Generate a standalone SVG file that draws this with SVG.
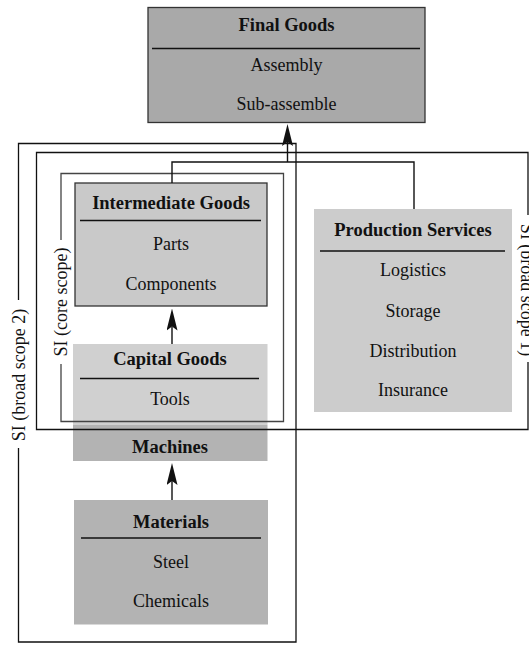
<svg xmlns="http://www.w3.org/2000/svg" width="529" height="645" viewBox="0 0 529 645">
<defs>
<style>
.t{font-family:"Liberation Serif","Times New Roman",serif;font-size:18px;fill:#111;text-anchor:middle;dominant-baseline:central}
.b{font-weight:bold;font-size:18.5px}
.r{font-family:"Liberation Serif","Times New Roman",serif;font-size:18px;fill:#111;text-anchor:middle}
.div{stroke:#111;stroke-width:1.3}
.scope{fill:none;stroke:#111;stroke-width:1.3}
.conn{fill:none;stroke:#111;stroke-width:1.4}
.box{stroke:#333;stroke-width:1.3}
</style>
<marker id="ah" viewBox="0 0 22 11" refX="4" refY="5.5" markerWidth="22" markerHeight="11" markerUnits="userSpaceOnUse" orient="auto">
<path d="M0,0 L22,5.5 L0,11 L4,5.5 Z" fill="#111"/>
</marker>
</defs>
<rect width="529" height="645" fill="#fff"/>

<g id="final-goods">
<rect class="box" x="148" y="7.5" width="277" height="115" fill="#a9a9a9"/>
<text class="t b" x="286.5" y="25">Final Goods</text>
<line class="div" x1="152" y1="48.5" x2="420" y2="48.5"/>
<text class="t" x="286.5" y="65">Assembly</text>
<text class="t" x="286.5" y="104">Sub-assemble</text>
</g>

<g id="intermediate-goods">
<rect class="box" x="75" y="183" width="192" height="123" fill="#c9c9c9"/>
<text class="t b" x="171" y="203">Intermediate Goods</text>
<line class="div" x1="80" y1="220.5" x2="261" y2="220.5"/>
<text class="t" x="171" y="244">Parts</text>
<text class="t" x="171" y="284">Components</text>
</g>

<g id="capital-goods">
<rect x="73" y="344" width="194.5" height="81" fill="#d0d0d0"/>
<text class="t b" x="170" y="359">Capital Goods</text>
<line class="div" x1="80" y1="378.5" x2="259" y2="378.5"/>
<text class="t" x="170" y="399">Tools</text>
</g>

<g id="machines">
<rect x="73" y="425" width="194.5" height="36" fill="#b3b3b3"/>
<text class="t b" x="170" y="446.5">Machines</text>
</g>

<g id="materials">
<rect x="74" y="500" width="194" height="124.5" fill="#b3b3b3"/>
<text class="t b" x="171" y="521.5">Materials</text>
<line class="div" x1="81" y1="538" x2="261" y2="538"/>
<text class="t" x="171" y="561.5">Steel</text>
<text class="t" x="171" y="601">Chemicals</text>
</g>

<g id="production-services">
<rect x="314" y="209" width="198" height="203" fill="#cccccc"/>
<text class="t b" x="413" y="230">Production Services</text>
<line class="div" x1="320" y1="251" x2="505" y2="251"/>
<text class="t" x="413" y="270">Logistics</text>
<text class="t" x="413" y="310.5">Storage</text>
<text class="t" x="413" y="350.5">Distribution</text>
<text class="t" x="413" y="390">Insurance</text>
</g>

<g id="scope-core">
<path class="scope" stroke="#444" style="stroke:#444" d="M61,240 V173.5 H283.5 V421.5 H61 V364"/>
<text class="r" transform="translate(67,302) rotate(-90)">SI (core scope)</text>
</g>

<g id="scope-broad-1">
<path class="scope" d="M528,215 V152.5 H36.5 V429.5 H528 V362"/>
<text class="r" transform="translate(521,290) rotate(90)">SI (broad scope 1)</text>
</g>

<g id="scope-broad-2">
<path class="scope" d="M18.5,300 V143.5 H296 V642 H18.5 V448"/>
<text class="r" transform="translate(25,375) rotate(-90)">SI (broad scope 2)</text>
</g>

<g id="connectors">
<path class="conn" d="M172,183 V162 H414 V209"/>
<path class="conn" d="M287.5,162 V142" marker-end="url(#ah)"/>
<path class="conn" d="M172,344 V326.5" marker-end="url(#ah)"/>
<path class="conn" d="M172,500 V481" marker-end="url(#ah)"/>
</g>
</svg>
